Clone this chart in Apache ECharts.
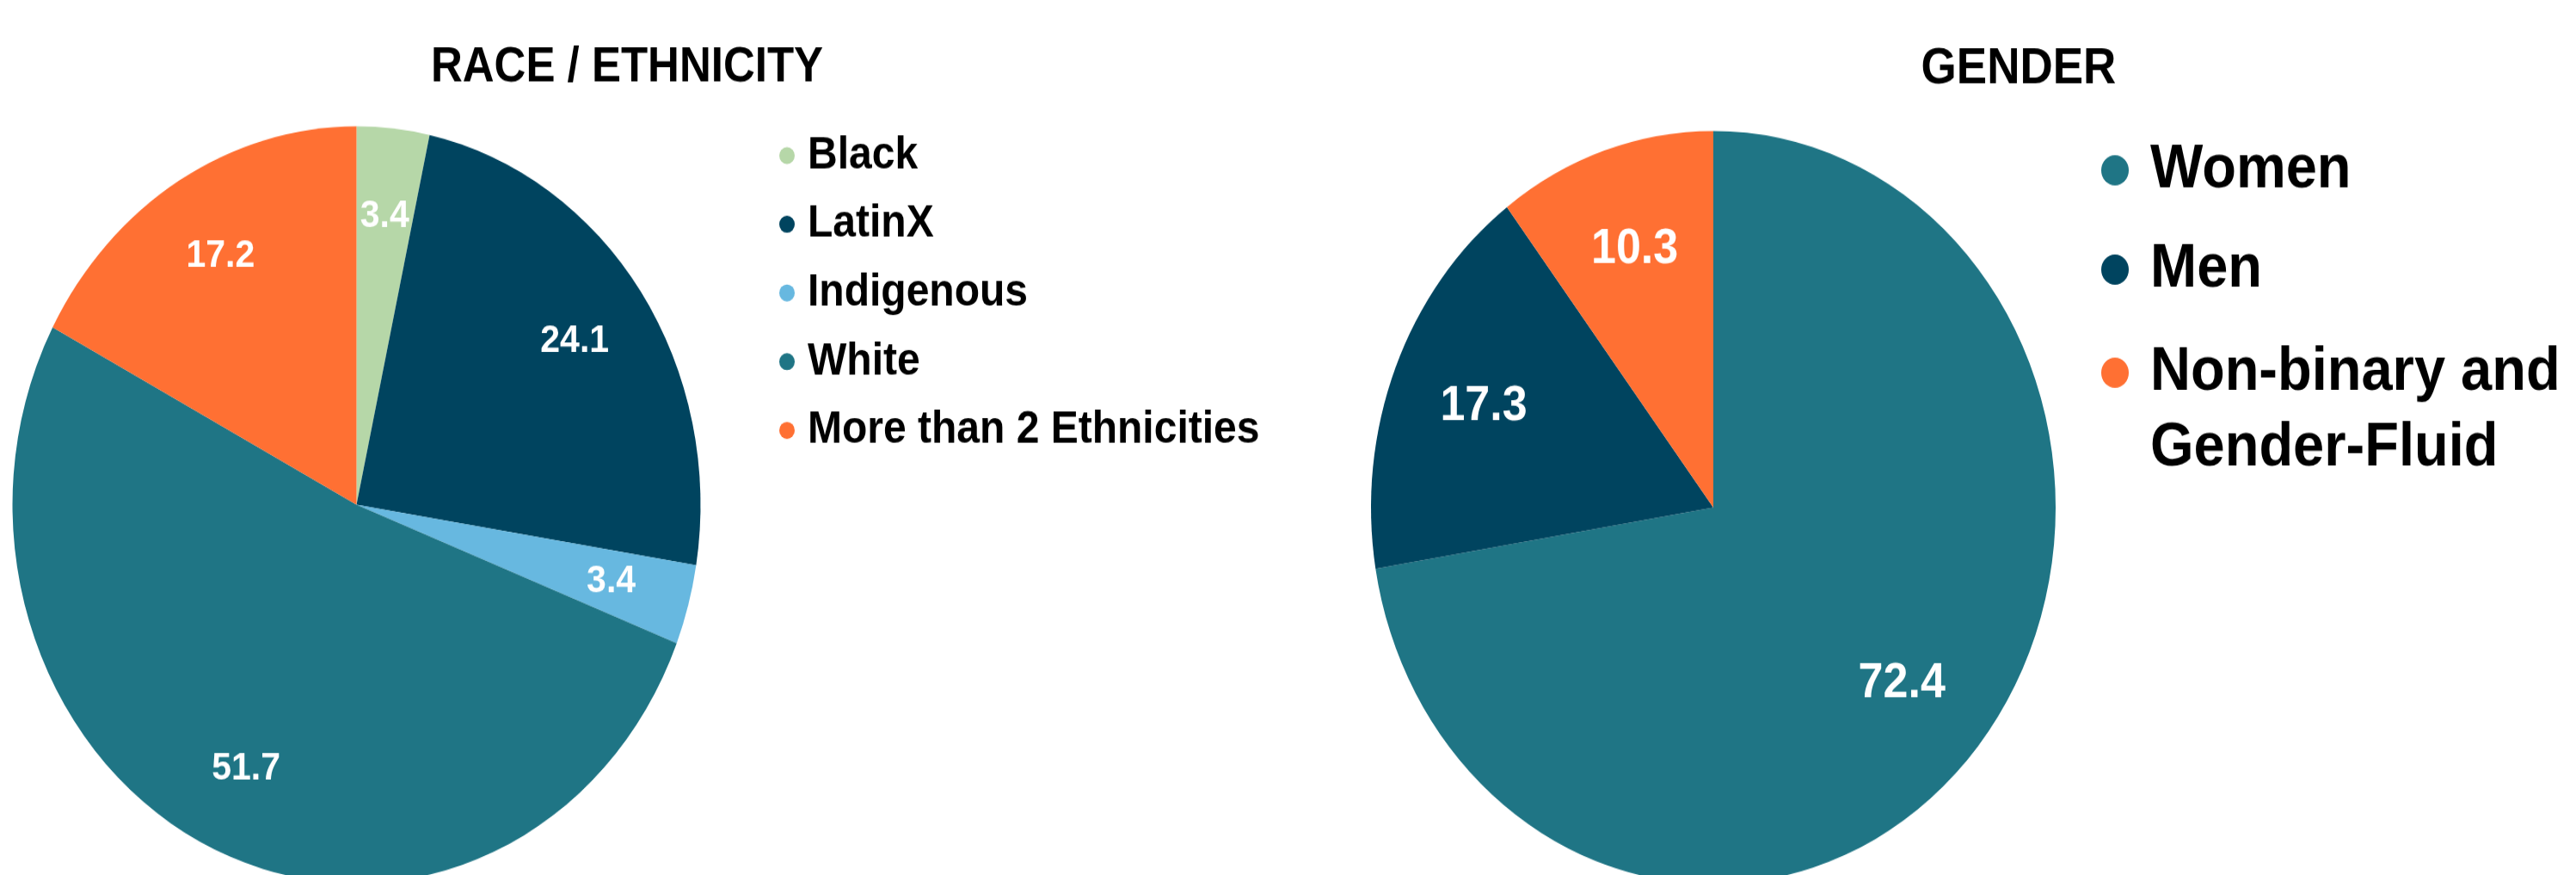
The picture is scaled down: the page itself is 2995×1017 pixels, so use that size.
<!DOCTYPE html>
<html>
<head>
<meta charset="utf-8">
<script src="https://cdn.jsdelivr.net/npm/echarts@6/dist/echarts.min.js"></script>
<style>
html,body{margin:0;padding:0;background:#fff;overflow:hidden;width:2995px;height:1017px;}
#chart{width:2995px;height:925px;transform:scaleY(1.0995);transform-origin:0 0;}
</style>
</head>
<body>
<div id="chart"></div>
<script>
// ---- data ----
const raceTitle = 'RACE / ETHNICITY';
const raceCategories = ['Black', 'LatinX', 'Indigenous', 'White', 'More than 2 Ethnicities'];
const raceValues = [3.4, 24.1, 3.4, 51.7, 17.2];
const raceColors = ['#b6d7a8', '#00445f', '#67b8e0', '#1f7585', '#ff7033'];

const genderTitle = 'GENDER';
const genderCategories = ['Women', 'Men', 'Non-binary and\nGender-Fluid'];
const genderValues = [72.4, 17.3, 10.3];
const genderColors = ['#1f7585', '#00445f', '#ff7033'];

const baseFont = 'Liberation Sans, Arial, sans-serif';

function pieData(names, values, colors) {
  return names.map(function (n, i) { return { name: n, value: values[i], itemStyle: { color: colors[i] } }; });
}
function labelData(names, values) {
  return names.map(function (n, i) { return { name: n, value: values[i] }; });
}

const chart = echarts.init(document.getElementById('chart'));
const labelCommon = { show: true, position: 'inside', formatter: '{c}', color: '#ffffff', fontWeight: 'bold', fontFamily: baseFont };
const multiLine = genderCategories.filter(function (n) { return n.indexOf('\n') >= 0; });

const option = {
  animation: false,
  backgroundColor: '#ffffff',
  title: [
    { text: raceTitle, left: 729, top: 46.5, padding: 0, textAlign: 'center',
      textStyle: { fontFamily: baseFont, fontWeight: 'bold', fontSize: 51, color: '#000' } },
    { text: genderTitle, left: 2347, top: 47, padding: 0, textAlign: 'center',
      textStyle: { fontFamily: baseFont, fontWeight: 'bold', fontSize: 53, color: '#000' } }
  ],
  legend: [
    { data: raceCategories, orient: 'vertical', left: 906, top: 140.5, padding: 0,
      icon: 'circle', itemWidth: 18, itemHeight: 18, itemGap: 24.6, selectedMode: false,
      textStyle: { fontFamily: baseFont, fontWeight: 'bold', fontSize: 48, lineHeight: 48, color: '#000', padding: [0, 0, 0, 10] } },
    { data: genderCategories.map(function (n) {
        return multiLine.indexOf(n) >= 0 ? { name: n, textStyle: { padding: [5, 0, 5, 20] } } : { name: n };
      }),
      formatter: function (name) { return multiLine.indexOf(name) >= 0 ? '\n' + name : name; },
      orient: 'vertical', left: 2443, top: 59, padding: 0,
      icon: 'circle', itemWidth: 32, itemHeight: 32, itemGap: -137, selectedMode: false,
      textStyle: { fontFamily: baseFont, fontWeight: 'bold', fontSize: 65, lineHeight: 80, color: '#000', padding: [81, 0, 81, 20] } }
  ],
  series: [
    { type: 'pie', center: [414.5, 533.6], radius: [0, 400], startAngle: 90, clockwise: true,
      data: pieData(raceCategories, raceValues, raceColors), label: { show: false }, labelLine: { show: false },
      emphasis: { disabled: true } },
    { type: 'pie', center: [1992, 536.4], radius: [0, 398], startAngle: 90, clockwise: true,
      data: pieData(genderCategories, genderValues, genderColors), label: { show: false }, labelLine: { show: false },
      emphasis: { disabled: true } },
    { type: 'pie', center: [414.5, 533.6], radius: [208, 400], startAngle: 90, clockwise: true, silent: true,
      legendHoverLink: false, data: labelData(raceCategories, raceValues),
      itemStyle: { color: 'rgba(0,0,0,0)' }, label: Object.assign({ fontSize: 41 }, labelCommon),
      labelLine: { show: false }, emphasis: { disabled: true } },
    { type: 'pie', center: [1992, 536.4], radius: [171, 398], startAngle: 90, clockwise: true, silent: true,
      legendHoverLink: false, data: labelData(genderCategories, genderValues),
      itemStyle: { color: 'rgba(0,0,0,0)' }, label: Object.assign({ fontSize: 52 }, labelCommon),
      labelLine: { show: false }, emphasis: { disabled: true } }
  ]
};
chart.setOption(option);
</script>
</body>
</html>
